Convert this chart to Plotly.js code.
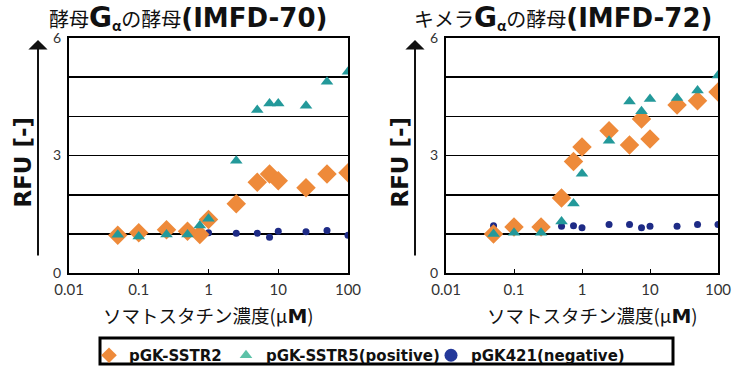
<!DOCTYPE html>
<html><head><meta charset="utf-8">
<script src="https://cdn.plot.ly/plotly-3.0.1.min.js"></script>
<style>html,body{margin:0;padding:0;background:#fff}#chart{width:732px;height:372px}</style>
</head><body><div id="chart"></div><script>
// concentrations (μM)
const conc = [0.05, 0.1, 0.25, 0.5, 0.75, 1, 2.5, 5, 7.5, 10, 25, 50, 100];
// IMFD-70 (yeast Gα)
const sstr2_70 = [0.97, 1.03, 1.11, 1.07, 0.99, 1.37, 1.77, 2.32, 2.53, 2.36, 2.18, 2.53, 2.56];
const sstr5_70 = [0.98, 0.94, 0.99, 0.99, 1.22, 1.39, 2.87, 4.16, 4.33, 4.33, 4.27, 4.88, 5.14];
const pgk421_70 = [1.0, 1.0, 1.02, 1.05, 1.0, 1.03, 1.02, 1.02, 0.92, 1.07, 1.06, 1.09, 0.97];
// IMFD-72 (chimera Gα)
const sstr2_72 = [1.0, 1.18, 1.18, 1.92, 2.85, 3.22, 3.63, 3.27, 3.93, 3.42, 4.29, 4.40, 4.62];
const sstr5_72 = [1.0, 1.03, 1.03, 1.32, 1.78, 2.54, 3.38, 4.38, 4.13, 4.44, 4.47, 4.66, 5.04];
const pgk421_72 = [1.21, 1.18, 1.28, 1.20, 1.21, 1.16, 1.24, 1.24, 1.16, 1.20, 1.20, 1.24, 1.24];

const xTickVals = [0.01, 0.1, 1, 10, 100];
const xTickText = ['0.01', '0.1', '1', '10', '100'];
const yTickVals = [0, 3, 6];
const seriesNames = ['pGK-SSTR2', 'pGK-SSTR5(positive)', 'pGK421(negative)'];
const BF = "font-family:'DejaVu Sans'";
const titles = ['酵母<b><span style="' + BF + ';font-size:28px">G</span></b><b><sub>α</sub></b>の酵母<b><span style="' + BF + ';font-size:26px">(IMFD-70)</span></b>',
                'キメラ<b><span style="' + BF + ';font-size:28px">G</span></b><b><sub>α</sub></b>の酵母<b><span style="' + BF + ';font-size:26px">(IMFD-72)</span></b>'];
const xTitle = 'ソマトスタチン濃度(μ<b><span style="' + BF + ';font-size:20px">M</span></b>)';
const yTitle = '<b>RFU [-]</b>';

const ORANGE = '#EE8A3A', TEAL = '#23999A', NAVY = '#1E2B86';
const W = 732, H = 372;
const FONT = 'Lato, "Noto Sans CJK JP", sans-serif';
const JFONT = '"Noto Sans CJK JP", Lato, sans-serif';

function pt(xa, ya, y, sym, size, color) {
  return {x: conc, y: y, xaxis: xa, yaxis: ya, type: 'scatter', mode: 'markers', showlegend: false,
    marker: {symbol: sym, size: size, color: color, line: {width: 0}}, hoverinfo: 'x+y'};
}
const traces = [
  pt('x', 'y', pgk421_70, 'circle', 7, NAVY),
  pt('x', 'y', sstr2_70, 'diamond', 15, ORANGE),
  pt('x', 'y', sstr5_70, 'triangle-up', 11, TEAL),
  pt('x2', 'y2', pgk421_72, 'circle', 7, NAVY),
  pt('x2', 'y2', sstr2_72, 'diamond', 15, ORANGE),
  pt('x2', 'y2', sstr5_72, 'triangle-up', 11, TEAL),
  // legend entries
  {x: [null], y: [null], type: 'scatter', mode: 'markers', name: seriesNames[0], legend: 'legend',
    marker: {symbol: 'diamond', size: 12, color: ORANGE}},
  {x: [null], y: [null], type: 'scatter', mode: 'markers', name: seriesNames[1], legend: 'legend2',
    marker: {symbol: 'triangle-up', size: 11, color: '#5DC2A8'}},
  {x: [null], y: [null], type: 'scatter', mode: 'markers', name: seriesNames[2], legend: 'legend3',
    marker: {symbol: 'circle', size: 13, color: '#24399A'}}
];

function xax(l, r, anchor) {
  return {domain: [l / W, r / W], type: 'log', range: [-2, 2], anchor: anchor,
    tickvals: xTickVals, ticktext: xTickText, tickfont: {family: FONT, size: 15, color: '#333'}, ticklabelstandoff: 2,
    showline: true, mirror: true, linecolor: '#000', linewidth: 2, ticks: 'inside', ticklen: 4, tickcolor: '#000',
    showgrid: false, zeroline: false, fixedrange: true};
}
function yax(anchor) {
  return {domain: [1 - 274 / H, 1 - 38 / H], range: [0, 6], anchor: anchor,
    tickvals: yTickVals, tickfont: {family: FONT, size: 14, color: '#333'}, ticks: '', ticklabelstandoff: 3,
    showline: true, mirror: true, linecolor: '#000', linewidth: 2,
    showgrid: true, gridcolor: '#000', gridwidth: 1.5, zeroline: false,
    minor: {dtick: 1, showgrid: true, gridcolor: '#000', gridwidth: 1.5}, fixedrange: true};
}

const ann = [];
[[188, 208], [563, 592]].forEach(function (p, i) {
  ann.push({xref: 'paper', yref: 'paper', x: p[0] / W, y: 1 - 18 / H, text: titles[i], showarrow: false,
    xanchor: 'center', yanchor: 'middle', font: {family: JFONT, size: 20, color: '#111'}});
  ann.push({xref: 'paper', yref: 'paper', x: p[1] / W, y: 1 - 316 / H, text: xTitle, showarrow: false,
    xanchor: 'center', yanchor: 'middle', font: {family: JFONT, size: 18.5, color: '#111'}});
});
[23, 400].forEach(function (xc) {
  ann.push({xref: 'paper', yref: 'paper', x: xc / W, y: 1 - 163 / H, text: yTitle, textangle: -90, showarrow: false,
    xanchor: 'center', yanchor: 'middle', font: {family: '"DejaVu Sans", sans-serif', size: 23, color: '#111'}});
});
[38, 415].forEach(function (ax) {
  ann.push({xref: 'paper', yref: 'paper', x: ax / W, y: 1 - 40 / H, text: '', showarrow: true,
    ax: 0, ay: 217, arrowhead: 1, arrowsize: 1.6, arrowwidth: 2, arrowcolor: '#111'});
});

function leg(xs) {
  return {orientation: 'h', x: xs / W, y: 1 - 340 / H, xanchor: 'left', yanchor: 'top',
    borderwidth: 0, bgcolor: 'rgba(0,0,0,0)', itemwidth: 30,
    font: {family: '"DejaVu Sans", sans-serif', size: 15, color: '#111', weight: 'bold'}};
}

const layout = {
  width: W, height: H, margin: {l: 0, r: 0, t: 0, b: 0}, paper_bgcolor: '#fff', plot_bgcolor: '#fff',
  xaxis: xax(69, 348, 'y'), yaxis: yax('x'),
  xaxis2: xax(446, 718, 'y2'), yaxis2: yax('x2'),
  showlegend: true,
  legend: leg(89), legend2: leg(226), legend3: leg(431),
  shapes: [{type: 'rect', xref: 'paper', yref: 'paper', x0: 100 / W, x1: 673 / W, y0: 1 - 365 / H, y1: 1 - 339 / H,
    line: {color: '#000', width: 3}, fillcolor: 'rgba(0,0,0,0)'}],
  annotations: ann
};
Plotly.newPlot('chart', traces, layout, {staticPlot: true});
</script></body></html>
